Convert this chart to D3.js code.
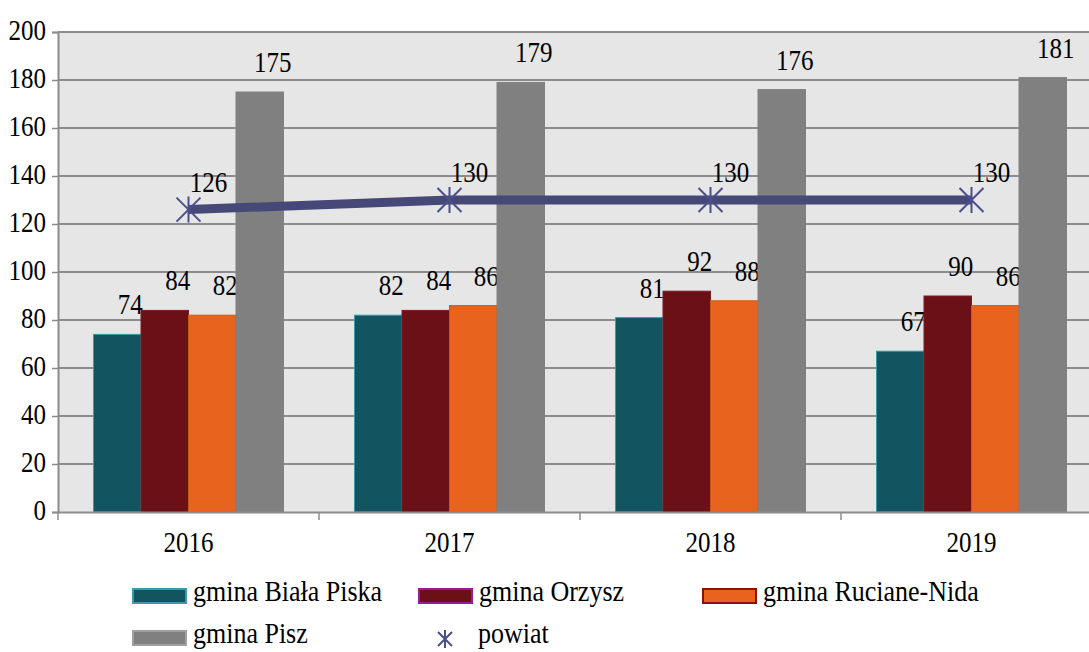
<!DOCTYPE html>
<html>
<head>
<meta charset="utf-8">
<script src="https://cdn.jsdelivr.net/npm/d3@7"></script>
<style>
  body { margin: 0; background: #fff; }
</style>
</head>
<body>
<div id="chart"></div>
<script>
// chart data
var years = ["2016", "2017", "2018", "2019"];
var seriesNames = ["gmina Biała Piska", "gmina Orzysz", "gmina Ruciane-Nida", "gmina Pisz"];
var bialaPiska = [74, 82, 81, 67];
var orzysz = [84, 84, 92, 90];
var rucianeNida = [82, 86, 88, 86];
var pisz = [175, 179, 176, 181];
var powiat = [126, 130, 130, 130];
var yTicks = [0, 20, 40, 60, 80, 100, 120, 140, 160, 180, 200];

var seriesValues = [bialaPiska, orzysz, rucianeNida, pisz];
var fills = ["#12545f", "#6b1016", "#e8641e", "#808080"];
var strokes = ["#3a9aaa", "#7a1a22", "#c85a14", "#808080"];
var legendStrokes = ["#3a9aaa", "#9a1a9a", "#8b1010", "#a0a0a0"];
var FONT = "Liberation Serif";
var STRETCH = 1.17; // text in the original looks a bit taller than wide

var W = 1089, H = 652;
var margin = {top: 32, left: 58},
    plotW = 1044, plotH = 480;

var svg = d3.select("#chart").append("svg")
    .attr("width", W).attr("height", H);

var g = svg.append("g").attr("transform", "translate(" + margin.left + "," + margin.top + ")");

var x0 = d3.scaleBand().domain(years).range([0, plotW]);
var x1 = d3.scaleBand().domain(d3.range(4)).range([35.5, x0.bandwidth() - 35.5]);
var y = d3.scaleLinear().domain([0, 200]).range([plotH, 0]);

function label(sel, size) {
  return sel.style("font-family", FONT).style("font-size", (size || 25) + "px").attr("fill", "#000");
}
// stretch text vertically around its own baseline
function stretch(sel) {
  sel.each(function() {
    var t = d3.select(this), tx = +t.attr("x") || 0, ty = +t.attr("y") || 0;
    t.attr("transform", "translate(" + tx + "," + ty + ") scale(1," + STRETCH + ") translate(" + (-tx) + "," + (-ty) + ")");
  });
}

// plot background
g.append("rect").attr("width", plotW).attr("height", plotH).attr("fill", "#e6e6e6");

// gridlines
g.selectAll(".grid").data(yTicks.slice(1)).enter().append("line")
    .attr("x1", 0).attr("x2", plotW)
    .attr("y1", function(d) { return y(d); }).attr("y2", function(d) { return y(d); })
    .attr("stroke", "#8c8c8c").attr("stroke-width", 2);

// y axis
var yAxis = g.append("g").call(d3.axisLeft(y).tickValues(yTicks).tickSize(6).tickPadding(6));
yAxis.attr("font-family", FONT).attr("font-size", 25);
yAxis.select(".domain").attr("stroke", "#8c8c8c").attr("stroke-width", 2);
yAxis.selectAll(".tick line").attr("stroke", "#8c8c8c").attr("stroke-width", 1.5);
label(yAxis.selectAll(".tick text")).attr("dy", null).attr("y", 7);
stretch(yAxis.selectAll(".tick text"));

// bars
years.forEach(function(yr, i) {
  var grp = g.append("g").attr("transform", "translate(" + x0(yr) + ",0)");
  seriesValues.forEach(function(vals, s) {
    grp.append("rect")
      .attr("x", x1(s)).attr("width", x1.bandwidth())
      .attr("y", y(vals[i])).attr("height", plotH - y(vals[i]))
      .attr("fill", fills[s]).attr("stroke", strokes[s]).attr("stroke-width", 1);
    var t = label(grp.append("text"))
      .attr("x", x1(s) + x1.bandwidth() / 2 + 13)
      .attr("y", y(vals[i]) - 20)
      .attr("text-anchor", "middle")
      .text(vals[i]);
    stretch(t);
  });
});

// x axis
var xAxis = g.append("g").attr("transform", "translate(0," + plotH + ")")
    .call(d3.axisBottom(x0).tickSize(0));
xAxis.attr("font-family", FONT).attr("font-size", 25);
xAxis.select(".domain").attr("stroke", "#8c8c8c").attr("stroke-width", 2);
label(xAxis.selectAll(".tick text")).attr("dy", null).attr("y", 40);
stretch(xAxis.selectAll(".tick text"));
xAxis.selectAll(".sep").data(years).enter().append("line")
    .attr("x1", function(d) { return x0(d); }).attr("x2", function(d) { return x0(d); })
    .attr("y1", 0).attr("y2", 8)
    .attr("stroke", "#8c8c8c").attr("stroke-width", 1.5);

// powiat line
var cx = function(d, i) { return x0(years[i]) + x0.bandwidth() / 2; };
var line = d3.line().x(cx).y(function(d) { return y(d); });
g.append("path").datum(powiat)
    .attr("d", line).attr("fill", "none")
    .attr("stroke", "#464878").attr("stroke-width", 9);

var star = "M-12,-12L12,12M12,-12L-12,12M0,-13L0,13";
g.selectAll(".mark").data(powiat).enter().append("path")
    .attr("d", star)
    .attr("transform", function(d, i) { return "translate(" + cx(d, i) + "," + y(d) + ")"; })
    .attr("stroke", "#4a4f8a").attr("stroke-width", 2).attr("fill", "none");
var pl = label(g.selectAll(".plabel").data(powiat).enter().append("text"))
    .attr("x", function(d, i) { return cx(d, i) + 20; })
    .attr("y", function(d) { return y(d) - 18; })
    .attr("text-anchor", "middle")
    .text(function(d) { return d; });
stretch(pl);

// legend
var legendItems = [
  {x: 133, y: 596, s: 0}, {x: 419, y: 596, s: 1}, {x: 703, y: 596, s: 2},
  {x: 133, y: 638, s: 3}
];
legendItems.forEach(function(it) {
  svg.append("rect")
    .attr("x", it.x).attr("y", it.y - 7).attr("width", 53).attr("height", 14)
    .attr("fill", fills[it.s]).attr("stroke", legendStrokes[it.s]).attr("stroke-width", 2);
  var t = label(svg.append("text"), 26)
    .attr("x", it.x + 60).attr("y", it.y + 5)
    .text(seriesNames[it.s]);
  stretch(t);
});
svg.append("path").attr("d", "M-7,-7L7,7M7,-7L-7,7M0,-9L0,9")
    .attr("transform", "translate(445,639)")
    .attr("stroke", "#4a4f8a").attr("stroke-width", 2).attr("fill", "none");
stretch(label(svg.append("text"), 26).attr("x", 478).attr("y", 643).text("powiat"));
</script>
</body>
</html>
